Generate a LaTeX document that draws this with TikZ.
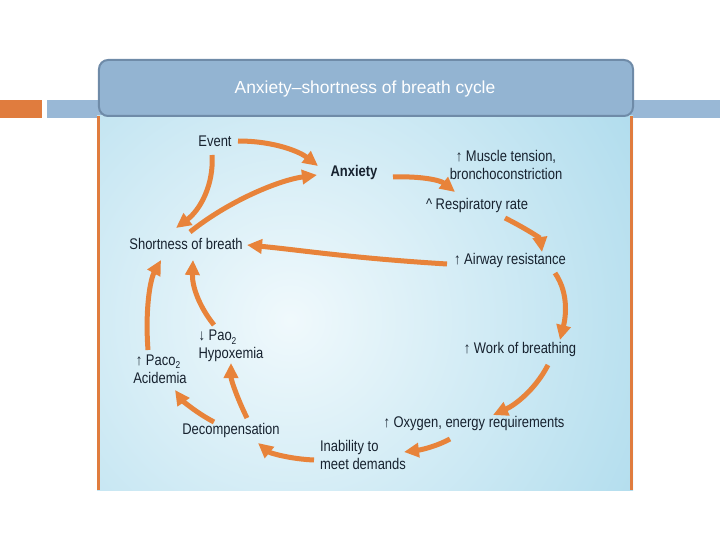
\documentclass[tikz,border=0pt]{standalone}
\usepackage{fontspec}
\setmainfont{Liberation Sans}
\newfontfamily\condfont{Liberation Sans}[FakeStretch=0.84]
\usetikzlibrary{arrows.meta,calc}
\definecolor{barorange}{HTML}{E07C3E}
\definecolor{barblue}{HTML}{99B8D6}
\definecolor{titlefill}{HTML}{93B4D2}
\definecolor{titleedge}{HTML}{6F8BA8}
\definecolor{panelout}{HTML}{9ED4E9}
\definecolor{panelin}{HTML}{F0F9FC}
\definecolor{arrorange}{HTML}{E8833A}
\definecolor{txt}{HTML}{17222F}
\newcommand{\sbt}[1]{\raisebox{-0.45ex}{\fontsize{10}{10}\selectfont #1}}
\tikzset{
  lbl/.style={text=txt, font=\condfont\fontsize{15.5}{18.5}\selectfont, inner sep=0pt, align=center},
  lbll/.style={lbl, align=left},
  arr/.style={draw=arrorange, line width=5bp, -{Triangle[length=15bp,width=14bp]}},
}
\begin{document}
\begin{tikzpicture}[x=1bp,y=-1bp]
\useasboundingbox (0,0) rectangle (720,540);
% top bar
\fill[barorange] (0,100) rectangle (42,118);
\fill[barblue] (47,100) rectangle (720,118);
% panel
\begin{scope}
  \clip (97,116) rectangle (633,490);
  \fill[panelout] (97,116) rectangle (633,490);
  \shade[inner color=panelin, outer color=panelout] (290,320) circle (520);
\end{scope}
\draw[barorange, line width=3bp] (98.5,116) -- (98.5,490);
\draw[barorange, line width=3bp] (631.5,116) -- (631.5,490);
% title
\node[draw=titleedge, fill=titlefill, line width=2bp, rounded corners=9bp, minimum width=534bp, minimum height=56bp] (title) at (366,88) {};
\node[text=white, font=\fontsize{17.5}{20}\selectfont, inner sep=0pt] (ttl) at (365,89) {Anxiety--shortness of breath cycle};
% labels
\node[lbl] (ev) at (215,141) {Event};
\node[lbl, font=\condfont\bfseries\fontsize{15.5}{18.5}\selectfont] (anx) at (354,173) {Anxiety};
\node[lbl] (mus) at (506,165) {↑ Muscle tension,\\bronchoconstriction};
\node[lbl] (resp) at (477,206) {\textasciicircum\ Respiratory rate};
\node[lbl] (sob) at (186,244) {Shortness of breath};
\node[lbl] (air) at (510,261) {↑ Airway resistance};
\node[lbl] (work) at (520,350) {↑ Work of breathing};
\node[lbll] (pao) at (231,346) {↓ Pao\sbt{2}\\Hypoxemia};
\node[lbll] (paco) at (160,369) {\,↑ Paco\sbt{2}\\Acidemia};
\node[lbl] (dec) at (231,431) {Decompensation};
\node[lbl] (oxy) at (474,424) {↑ Oxygen, energy requirements};
\node[lbll] (inab) at (363,455) {Inability to\\meet demands};
% arrows
\draw[arr] ($(ev)+(23,0)$) .. controls (275,141) and (300,152) .. ($(anx)+(-36,-7)$);
\draw[arr] ($(ev)+(-3,14)$) .. controls (214,185) and (200,210) .. ($(sob)+(-10,-16)$);
\draw[arr] ($(sob)+(4,-12)$) .. controls (230,200) and (280,180) .. ($(anx)+(-37,2)$);
\draw[arr] ($(anx)+(39,4)$) .. controls (420,176) and (440,180) .. ($(mus)+(-51,27)$);
\draw[arr] ($(resp)+(28,12)$) .. controls (525,228) and (540,238) .. ($(air)+(32,-9)$);
\draw[arr] ($(air)+(-63,3)$) .. controls (350,258) and (300,250) .. ($(sob)+(61,1)$);
\draw[arr] ($(air)+(45,12)$) .. controls (570,295) and (565,320) .. ($(work)+(40,-10)$);
\draw[arr] ($(work)+(28,15)$) .. controls (535,390) and (515,405) .. ($(oxy)+(19,-9)$);
\draw[arr] ($(oxy)+(-24,15)$) .. controls (435,447) and (420,450) .. ($(inab)+(41,-3)$);
\draw[arr] ($(inab)+(-49,5)$) .. controls (290,459) and (270,453) .. ($(dec)+(27,12)$);
\draw[arr] ($(dec)+(-17,-9)$) .. controls (195,412) and (182,400) .. ($(paco)+(15,21)$);
\draw[arr] ($(dec)+(16,-13)$) .. controls (238,400) and (231,380) .. ($(pao)+(0,17)$);
\draw[arr] ($(paco)+(-12,-19)$) .. controls (145,310) and (150,280) .. ($(sob)+(-25,16)$);
\draw[arr] ($(pao)+(-17,-21)$) .. controls (198,305) and (192,285) .. ($(sob)+(7,16)$);
\end{tikzpicture}
\end{document}
